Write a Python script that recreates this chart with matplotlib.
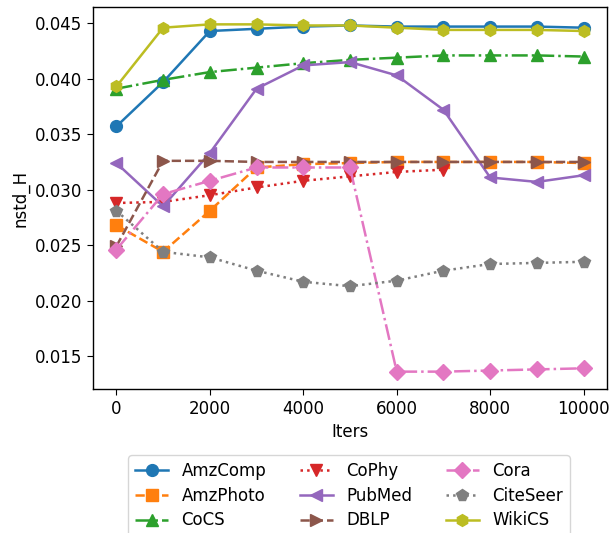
import matplotlib
matplotlib.use("Agg")
import matplotlib.pyplot as plt

iters = [0, 1000, 2000, 3000, 4000, 5000, 6000, 7000, 8000, 9000, 10000]

amzcomp = [0.0357, 0.0397, 0.0443, 0.0445, 0.0447, 0.0448, 0.0447, 0.0447, 0.0447, 0.0447, 0.0446]
amzphoto = [0.0268, 0.0244, 0.0281, 0.0320, 0.0323, 0.0324, 0.0325, 0.0325, 0.0325, 0.0325, 0.0324]
cocs = [0.0391, 0.0399, 0.0406, 0.0410, 0.0414, 0.0417, 0.0419, 0.0421, 0.0421, 0.0421, 0.0420]
cophy = [0.0288, 0.0289, 0.0295, 0.0302, 0.0308, 0.0312, 0.0316, 0.0318]
pubmed = [0.0324, 0.0285, 0.0333, 0.0391, 0.0412, 0.0415, 0.0403, 0.0372, 0.0311, 0.0307, 0.0313]
dblp = [0.0249, 0.0326, 0.0326, 0.0325, 0.0325, 0.0325, 0.0325, 0.0325, 0.0325, 0.0325, 0.0325]
cora = [0.0246, 0.0296, 0.0308, 0.0320, 0.0320, 0.0320, 0.0136, 0.0136, 0.0137, 0.0138, 0.0139]
citeseer = [0.0281, 0.0244, 0.0239, 0.0227, 0.0217, 0.0213, 0.0218, 0.0227, 0.0233, 0.0234, 0.0235]
wikics = [0.0393, 0.0446, 0.0449, 0.0449, 0.0448, 0.0448, 0.0446, 0.0444, 0.0444, 0.0444, 0.0443]

series = [
    ("AmzComp", amzcomp, "o", "-", "#1f77b4"),
    ("AmzPhoto", amzphoto, "s", "--", "#ff7f0e"),
    ("CoCS", cocs, "^", "-.", "#2ca02c"),
    ("CoPhy", cophy, "v", ":", "#d62728"),
    ("PubMed", pubmed, "<", "-", "#9467bd"),
    ("DBLP", dblp, ">", "--", "#8c564b"),
    ("Cora", cora, "D", "-.", "#e377c2"),
    ("CiteSeer", citeseer, "p", ":", "#7f7f7f"),
    ("WikiCS", wikics, "h", "-", "#bcbd22"),
]

plt.rcParams["font.size"] = 12
plt.rcParams["xtick.major.size"] = 4.3
plt.rcParams["ytick.major.size"] = 4.3
plt.rcParams["axes.linewidth"] = 1.0

fig = plt.figure(figsize=(6.09, 5.33), dpi=100)
ax = fig.add_axes([93 / 609, (533 - 389) / 533, (607 - 93) / 609, (389 - 7) / 533])

for name, vals, marker, ls, color in series:
    ax.plot(iters[:len(vals)], vals, marker=marker, linestyle=ls, color=color,
            label=name, linewidth=1.8, markersize=8.5)

ax.set_xlabel("Iters")
ax.set_ylabel("nstd_H")
ax.set_yticks([0.015, 0.020, 0.025, 0.030, 0.035, 0.040, 0.045])
ax.set_yticklabels(["0.015", "0.020", "0.025", "0.030", "0.035", "0.040", "0.045"])

fig.legend(loc="upper center", bbox_to_anchor=(349 / 609, (533 - 447) / 533),
           ncol=3, frameon=True, handlelength=2.0, columnspacing=2.0,
           labelspacing=0.4)

fig.savefig("out.png", dpi=100)
